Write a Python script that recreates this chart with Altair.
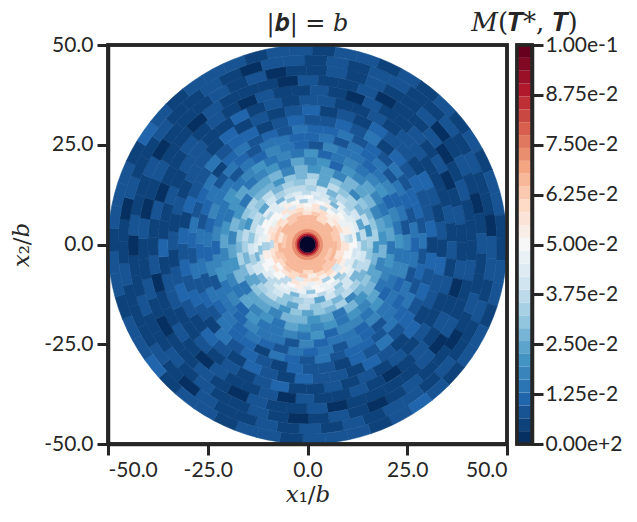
import altair as alt
import pandas as pd

INK = "#262626"
LABEL_FONT = "Lato"
MATH_FONT = "DejaVu Serif"

# ring edges in units of b, from the core outwards
core_radius = 2.0
ring_edges = [2.0, 2.4, 2.8, 3.2, 4.0, 5.5, 6.5, 7.5, 8.5, 9.5, 10.5, 11.5, 12.5, 13.5, 15.0, 16.5,
              18.0, 20.0, 22.0, 24.0, 26.0, 28.0, 30.0, 32.5, 35.0, 37.5, 40.0, 42.5, 45.0, 47.5, 50.0]

# M values per ring (x 1e-3), each list runs clockwise
ring_values = [
    [98],
    [90],
    [80],
    [72],
    [67],
    [66, 65, 66, 66, 64, 66, 65, 66, 66, 64, 65],
    [65, 64, 66, 60, 65, 65, 63, 66, 58, 65, 64, 66, 65, 61, 65, 63, 66],
    [63, 60, 64, 64, 55, 62, 63, 58, 64, 60, 52, 63, 62, 64, 57, 62, 64, 60, 54, 63, 61, 64, 59],
    [60, 52, 57, 61, 48, 58, 55, 61, 40, 59, 53, 60, 57, 44, 61, 56, 50, 60, 58, 38, 59, 55, 61,
     47, 58, 60, 52, 57],
    [54, 47, 52, 55, 38, 51, 55, 49, 53, 34, 52, 55, 46, 50, 55, 42, 53, 49, 55, 36, 51, 54, 47,
     52, 41, 55, 50, 53, 44, 54, 33],
    [51, 49, 44, 52, 50, 33, 48, 51, 52, 41, 50, 47, 52, 36, 49, 51, 45, 52, 30, 50, 48, 51, 43,
     52, 49, 38, 51, 46, 50, 52, 35, 48, 51],
    [46, 49, 40, 45, 48, 34, 44, 47, 49, 30, 46, 42, 48, 37, 45, 49, 43, 31, 47, 45, 49, 38, 44,
     48, 35, 46, 49, 41, 45, 28, 48, 43, 47],
    [42, 37, 44, 41, 29, 43, 39, 45, 33, 42, 44, 26, 40, 43, 36, 45, 41, 30, 44, 38, 42, 45, 28,
     41, 43, 34, 44, 40, 31, 43, 37, 45, 39, 27, 42],
    [37, 33, 41, 28, 38, 35, 40, 25, 37, 32, 41, 36, 29, 39, 34, 41, 24, 38, 35, 31, 40, 37, 27,
     39, 33, 41, 30, 36, 38, 25, 40, 34, 37],
    [33, 37, 27, 35, 30, 38, 23, 32, 36, 34, 25, 37, 29, 33, 38, 21, 35, 31, 37, 26, 34, 32, 38,
     24, 36, 30, 33, 28, 37, 22, 34, 31, 36, 27],
    [28, 32, 23, 30, 33, 26, 29, 20, 31, 27, 33, 24, 30, 28, 18, 32, 26, 30, 33, 22, 29, 25, 31,
     28, 19, 33, 27, 30, 24, 32, 21, 29, 26, 31, 23, 28, 33],
    [24, 27, 19, 25, 22, 28, 17, 23, 26, 21, 28, 15, 24, 20, 26, 27, 18, 23, 25, 16, 28, 21, 24,
     19, 27, 22, 14, 25, 23, 28, 18, 26, 20, 24, 17, 27],
    [20, 23, 16, 21, 18, 24, 14, 19, 22, 17, 23, 20, 13, 21, 24, 16, 19, 22, 15, 23, 18, 20, 12,
     22, 17, 24, 19, 14, 21, 23, 16, 20, 18, 13, 24, 19, 22, 15, 21, 17],
    [17, 20, 13, 18, 15, 21, 11, 16, 19, 14, 17, 20, 12, 18, 15, 21, 13, 19, 16, 10, 20, 14, 18,
     17, 11, 21, 15, 19, 13, 16, 20, 12, 18, 14, 21, 17, 10, 19, 15, 13, 20, 16],
    [14, 17, 11, 15, 13, 18, 10, 14, 16, 12, 18, 9, 15, 13, 17, 11, 16, 14, 8, 18, 12, 15, 10, 17,
     14, 13, 9, 16, 11, 18, 15, 12, 8, 17, 13, 16, 10, 14, 18, 11, 15, 9, 17],
    [12, 15, 8, 13, 11, 16, 9, 12, 14, 8, 15, 11, 7, 13, 16, 10, 12, 14, 8, 15, 11, 13, 7, 16, 12,
     9, 14, 11, 15, 8, 13, 10, 16, 7, 12, 14, 9, 15, 11, 13, 8, 12, 16, 10, 14],
    [11, 13, 8, 11, 9, 14, 7, 11, 12, 8, 14, 9, 11, 7, 13, 10, 14, 8, 11, 12, 7, 14, 9, 11, 13, 6,
     12, 10, 14, 8, 11, 9, 13, 7, 12, 14, 8, 10, 13, 6, 11, 14, 9, 12, 8, 13, 10],
    [8, 11, 6, 9, 8, 12, 6, 9, 11, 8, 13, 6, 9, 11, 7, 12, 8, 10, 6, 12, 9, 8, 13, 7, 10, 11, 6, 9,
     12, 8, 7, 11, 9, 13, 6, 10, 8, 12, 7, 9, 11, 6, 12, 8, 10, 7, 11, 9, 13],
    [8, 5, 9, 7, 5, 11, 6, 8, 5, 9, 12, 6, 8, 5, 10, 7, 9, 5, 11, 8, 6, 9, 5, 12, 7, 8, 5, 10, 6, 9,
     11, 5, 8, 7, 10, 5, 9, 12, 6, 8, 10, 5, 7, 11, 8, 5, 9, 6],
    [6, 4, 8, 5, 7, 4, 9, 5, 6, 8, 4, 7, 5, 9, 4, 8, 6, 5, 10, 7, 4, 8, 5, 9, 6, 4, 7, 8, 5, 10, 4,
     6, 9, 5, 7, 8, 4, 6, 10, 5, 8, 4, 7, 9, 5, 6, 8, 4, 7, 9, 5],
    [5, 4, 7, 3, 5, 8, 4, 5, 3, 7, 5, 4, 8, 3, 6, 5, 9, 4, 7, 5, 3, 8, 5, 4, 7, 6, 3, 9, 5, 4, 8, 5,
     7, 3, 5, 9, 4, 6, 8, 3, 5, 7, 4, 9, 5, 3, 6, 8, 4, 5, 7, 3, 8],
    [4, 5, 3, 7, 4, 5, 8, 3, 5, 4, 7, 3, 5, 8, 4, 6, 5, 9, 4, 5, 7, 3, 8, 5, 4, 6, 5, 3, 8, 4, 5, 7,
     3, 5, 8, 4, 6, 3, 5, 9, 4, 5, 7, 3, 5, 8, 4, 5, 3, 7, 5],
    [5, 3, 6, 4, 8, 5, 3, 5, 7, 4, 3, 5, 8, 4, 5, 7, 5, 9, 4, 6, 8, 4, 5, 3, 7, 5, 4, 8, 3, 5, 6, 4,
     8, 5, 7, 3, 5, 4, 8, 5, 9, 4, 5, 7, 3, 5, 8, 4, 3, 5, 7, 4, 5, 8],
    [5, 7, 4, 5, 3, 8, 5, 4, 7, 5, 4, 8, 5, 3, 7, 8, 5, 9, 5, 7, 8, 5, 4, 7, 5, 8, 4, 5, 3, 7, 8, 5,
     9, 5, 4, 8, 5, 7, 8, 4, 9, 5, 8, 5, 7, 4, 5, 8, 3, 5, 7, 5, 4],
    [7, 5, 8, 5, 9, 5, 7, 8, 5, 4, 8, 7, 5, 9, 8, 5, 7, 10, 8, 5, 9, 7, 8, 5, 9, 8, 5, 7, 8, 5, 10,
     8, 7, 5, 9, 8, 5, 9, 7, 8, 5, 10, 8, 5, 7, 9, 8, 5, 7, 8, 5, 9, 8, 5],
]

axis_ticks = [-50, -25, 0, 25, 50]
cbar_ticks = [0.0, 0.0125, 0.025, 0.0375, 0.05, 0.0625, 0.075, 0.0875, 0.1]
n_levels = 31
# RdBu anchors, blue end first
anchors = ["#053061", "#2166ac", "#4393c3", "#92c5de", "#d1e5f0", "#f7f7f7",
           "#fddbc7", "#f4a582", "#d6604d", "#b2182b", "#67001f"]


def level_colors(n):
    out = []
    for i in range(n):
        t = i / (n - 1) * (len(anchors) - 1)
        k = min(int(t), len(anchors) - 2)
        a, b = anchors[k], anchors[k + 1]
        rgb = [round(int(a[p:p + 2], 16) * (k + 1 - t) + int(b[p:p + 2], 16) * (t - k)) for p in (1, 3, 5)]
        out.append("#%02x%02x%02x" % tuple(rgb))
    return out


cells = []
for i, levels in enumerate(ring_values):
    # each ring starts at its own angle so the cells do not line up into spokes
    start = i * 0.382 % 1
    for j, v in enumerate(levels):
        cells.append({
            "r0": ring_edges[i],
            "r1": ring_edges[i + 1],
            "t0": start + j / len(levels),
            "t1": start + (j + 1) / len(levels),
            "value": v / 1000,
        })
cells = pd.DataFrame(cells)
core = pd.DataFrame([{"r0": 0, "r1": core_radius, "t0": 0, "t1": 1}])
levels_df = pd.DataFrame([
    {"y0": i * 0.1 / n_levels, "y1": (i + 1) * 0.1 / n_levels, "value": (i + 0.5) * 0.1 / n_levels}
    for i in range(n_levels)
])

scale_color = alt.Scale(type="quantize", domain=[0, 0.1], range=level_colors(n_levels))
tau = 6.283185307
scale_theta = alt.Scale(domain=[0, 1], range=[0, tau])
scale_r = alt.Scale(type="linear", domain=[0, 50], range=[0, 199.5])
axis_label = "(datum.value<0?'-':'')+format(abs(datum.value),'.1f')"


def arcs(data):
    return alt.Chart(data).mark_arc(strokeWidth=0.6).encode(
        x=alt.value(199.5),
        y=alt.value(199.5),
        theta=alt.Theta("t0:Q", scale=scale_theta, stack=None),
        theta2="t1:Q",
        radius=alt.Radius("r0:Q", scale=scale_r),
        radius2="r1:Q",
    )


def outline(w, h):
    # frame drawn over the marks
    return alt.Chart(pd.DataFrame({"n": [0]})).mark_rect(
        filled=False, stroke=INK, strokeWidth=3.5
    ).encode(x=alt.value(0), x2=alt.value(w), y=alt.value(0), y2=alt.value(h))


disc = arcs(cells).encode(
    color=alt.Color("value:Q", scale=scale_color, legend=None),
    stroke=alt.Color("value:Q", scale=scale_color, legend=None),
)
hole = arcs(core).encode(color=alt.value("#04062c"))
frame = alt.Chart(pd.DataFrame({"x": axis_ticks, "y": axis_ticks})).mark_point(opacity=0).encode(
    x=alt.X("x:Q", scale=alt.Scale(domain=[-50, 50]),
            axis=alt.Axis(values=axis_ticks, title="𝑥₁/𝑏", labelExpr=axis_label, grid=False, titlePadding=3)),
    y=alt.Y("y:Q", scale=alt.Scale(domain=[-50, 50]),
            axis=alt.Axis(values=axis_ticks, title="𝑥₂/𝑏", labelExpr=axis_label, grid=False, titlePadding=10)),
)
main = alt.layer(disc, hole, frame, outline(399, 399)).properties(
    width=399, height=399,
    title=alt.Title("|𝒃| = 𝑏", font=MATH_FONT, fontSize=24, fontWeight="normal", color=INK, offset=-2),
).resolve_scale(color="independent")

cbar_cells = alt.Chart(levels_df).mark_rect().encode(
    x=alt.value(0),
    x2=alt.value(15),
    y=alt.Y("y0:Q", scale=alt.Scale(domain=[0, 0.1]),
            axis=alt.Axis(values=cbar_ticks, orient="right", title=None, labelPadding=2,
                          labelExpr="datum.value==0?'0.00e+2':format(datum.value,'.2e')")),
    y2="y1:Q",
    color=alt.Color("value:Q", scale=scale_color, legend=None),
)
cbar = alt.layer(cbar_cells, outline(15, 399)).properties(
    width=15, height=399,
    title=alt.Title("𝑀(𝑻*, 𝑻)", font=MATH_FONT, fontSize=26, fontWeight="normal", color=INK, offset=-2),
)

chart = alt.hconcat(main, cbar, spacing=10, bounds="flush").configure_view(
    stroke=INK, strokeWidth=3.5
).configure_axis(
    labelFont=LABEL_FONT, labelFontSize=21, labelColor=INK, labelPadding=4,
    tickColor=INK, tickSize=11, tickWidth=3, domainColor=INK, domainWidth=3.5,
    titleFont=MATH_FONT, titleFontSize=23, titleFontWeight="normal", titleColor=INK,
).properties(padding={"left": 0, "top": 0, "right": 0, "bottom": 0})

chart.save("out.html", embed_options={"renderer": "svg", "actions": False})
